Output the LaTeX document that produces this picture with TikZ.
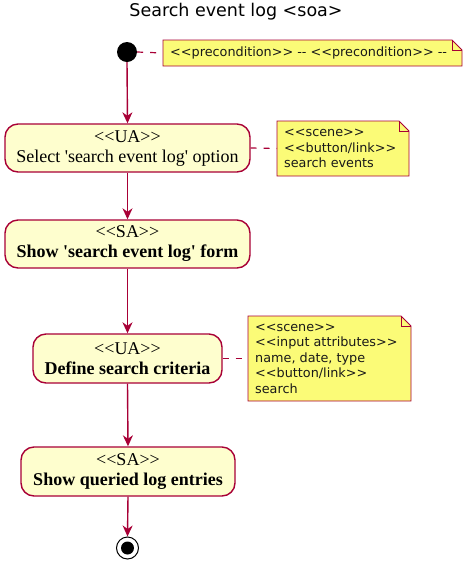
\documentclass[tikz,border=0pt]{standalone}
\usepackage{fontspec}
\setmainfont{Liberation Serif}[Ligatures=TeXOff]
\newfontfamily\notefont{DejaVu Sans}[Ligatures=TeXOff]
\usetikzlibrary{arrows.meta}
\definecolor{pborder}{HTML}{A80036}
\definecolor{pfill}{HTML}{FEFECE}
\definecolor{nfill}{HTML}{FBFB77}
\tikzset{
  act/.style={draw=pborder, fill=pfill, line width=1.4pt, rounded corners=13pt, align=center, font=\fontsize{18}{20}\selectfont, inner sep=0pt},
  notebox/.style={align=left, font=\notefont\fontsize{12.8}{15.5}\selectfont, inner sep=0pt, text=black!90},
  arr/.style={draw=pborder, line width=1.4pt, -{Stealth[length=11pt,width=10pt,inset=3.5pt]}},
  conn/.style={draw=pborder, line width=1.2pt, dash pattern=on 6pt off 7pt},
}
\newcommand{\dognote}[6]{% name, cx, cy, w, h, text
  \path[draw=pborder, fill=nfill, line width=0.9pt]
    ({#2-#4/2},{#3-#5/2}) -- ({#2+#4/2-10},{#3-#5/2}) -- ({#2+#4/2},{#3-#5/2+10}) -- ({#2+#4/2},{#3+#5/2}) -- ({#2-#4/2},{#3+#5/2}) -- cycle;
  \path[draw=pborder, line width=0.9pt] ({#2+#4/2-10},{#3-#5/2}) -- ({#2+#4/2-10},{#3-#5/2+10}) -- ({#2+#4/2},{#3-#5/2+10});
  \node[notebox, anchor=west] at ({#2-#4/2+7},{#3}) {#6};
  \coordinate (#1) at ({#2-#4/2},{#3});
}
\begin{document}
\begin{tikzpicture}[x=1pt,y=-1pt]
\useasboundingbox (0,0) rectangle (472,566);
\node[font=\notefont\fontsize{17.5}{20}\selectfont] (title) at (236,12) {Search event log <soa>};

\node[circle, fill=black, minimum size=20pt, inner sep=0pt] (start) at (127,52) {};
\dognote{n1}{312.5}{53}{299}{26}{<<precondition>> -- <<precondition>> --}
\draw[conn] (start.east) -- (n1);

\node[act, minimum width=245pt, minimum height=48pt] (ua1) at (127.5,148) {<<UA>>\\Select 'search event log' option};
\dognote{n2}{343}{148.5}{132}{55}{<<scene>>\\<<button/link>>\\search events}
\draw[conn] (ua1.east) -- (n2);

\node[act, minimum width=245pt, minimum height=48pt] (sa1) at (127.5,244) {<<SA>>\\\textbf{Show 'search event log' form}};

\node[act, minimum width=189pt, minimum height=49pt] (ua2) at (127.5,358.5) {<<UA>>\\\textbf{Define search criteria}};
\dognote{n3}{329.5}{358.5}{163}{85}{<<scene>>\\<<input attributes>>\\name, date, type\\<<button/link>>\\search}
\draw[conn] (ua2.east) -- (n3);

\node[act, minimum width=214pt, minimum height=49pt] (sa2) at (128,471.5) {<<SA>>\\\textbf{Show queried log entries}};

\node[circle, draw=black, fill=white, line width=1pt, minimum size=22pt, inner sep=0pt] (end) at (127.5,548) {};
\fill[black] (end.center) circle (6.5pt);

\draw[arr] (start.south) -- (ua1.north);
\draw[arr] (ua1.south) -- (sa1.north);
\draw[arr] (sa1.south) -- (ua2.north);
\draw[arr] (ua2.south) -- (sa2.north);
\draw[arr] (sa2.south) -- (end.north);
\end{tikzpicture}
\end{document}
